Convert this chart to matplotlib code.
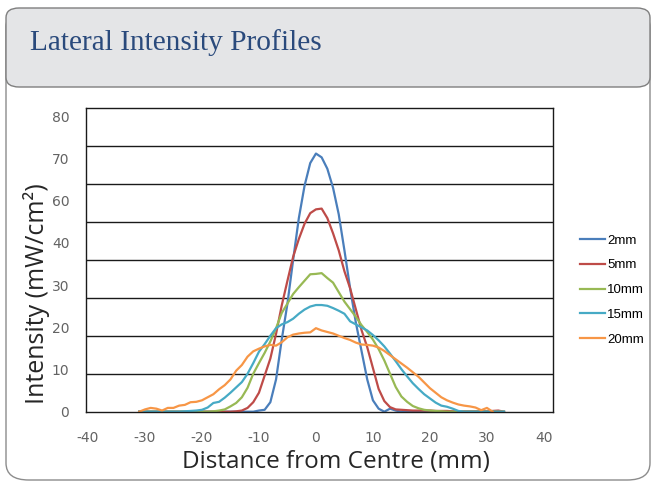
import numpy as np
import matplotlib
matplotlib.use("Agg")
import matplotlib.pyplot as plt
from matplotlib.patches import FancyBboxPatch

# Distance from centre (mm), 1 mm steps
distance = np.arange(-31, 34)

# Intensity (mW/cm2), one list per depth
i_2mm = [0, 0, 0, 0, 0, 0, 0, 0, 0, 0, 0, 0, 0, 0, 0, 0, 0, 0, 0, 0, 0,
         0.3, 0.5, 2.5, 8.5, 19.0, 28.5, 40.0, 51.0, 59.5, 65.5, 68.0, 67.0,
         64.0, 59.0, 52.0, 42.5, 32.5, 23.5, 16.0, 8.5, 3.0, 0.8, 0.0, 0.8, 0.3,
         0, 0, 0, 0, 0, 0, 0, 0, 0, 0, 0, 0, 0, 0, 0, 0, 0, 0, 0]
i_5mm = [0, 0, 0, 0, 0, 0, 0, 0, 0, 0, 0, 0, 0, 0, 0, 0, 0,
         0.1, 0.3, 1.0, 2.5, 5.0, 9.5, 14.0, 20.5, 28.0, 34.5, 40.8, 45.5, 49.5,
         52.3, 53.3, 53.5, 51.0, 47.0, 42.5, 37.0, 32.5, 27.0, 21.5, 17.0, 11.5,
         6.0, 2.8, 1.2, 0.6, 0.5, 0.4, 0.3, 0.3, 0.3, 0.3, 0.2, 0.2, 0.2, 0.1,
         0.1, 0.1, 0.1, 0.1, 0.1, 0.1, 0.2, 0.3, 0]
i_10mm = [0, 0, 0, 0, 0, 0, 0, 0, 0, 0, 0, 0, 0,
          0.1, 0.3, 0.6, 1.4, 2.3, 3.8, 6.3, 10.0, 12.8, 15.5, 18.5, 22.0, 26.0,
          28.5, 31.0, 32.8, 34.5, 36.2, 36.3, 36.5, 35.2, 34.0, 31.5, 29.0, 27.0,
          25.0, 22.8, 21.0, 19.0, 16.5, 13.5, 10.0, 6.5, 4.0, 2.6, 1.5, 0.9, 0.5,
          0.3, 0.2, 0.1, 0, 0, 0, 0, 0, 0, 0, 0, 0, 0, 0]
i_15mm = [0, 0, 0, 0, 0, 0, 0, 0,
          0.1, 0.2, 0.3, 0.5, 1.1, 2.3, 2.6, 3.7, 5.0, 6.4, 7.8, 10.0, 12.8, 15.8,
          17.8, 20.0, 22.0, 23.0, 23.6, 24.5, 25.8, 26.9, 27.7, 28.1, 28.1, 27.9,
          27.3, 26.6, 25.8, 23.8, 23.0, 22.2, 21.4, 20.2, 18.8, 17.2, 15.3, 13.3,
          11.2, 9.3, 7.5, 6.0, 4.6, 3.5, 2.4, 1.6, 1.3, 0.8, 0.2,
          0, 0, 0, 0, 0, 0, 0, 0]
i_20mm = [0, 0.6, 1.0, 0.8, 0.3, 1.0, 1.0, 1.6, 1.8, 2.5, 2.6, 3.0, 3.8, 4.6,
          5.9, 7.0, 8.5, 10.8, 12.3, 14.5, 15.9, 16.6, 17.2, 17.6, 17.4, 18.3,
          19.6, 20.3, 20.6, 20.8, 20.9, 22.0, 21.4, 21.0, 20.6, 20.0, 19.4, 18.9,
          18.2, 17.7, 17.6, 17.4, 16.9, 16.0, 14.9, 13.8, 12.7, 11.6, 10.4, 9.2,
          7.7, 6.2, 5.0, 3.8, 3.0, 2.4, 1.9, 1.6, 1.4, 1.1, 0.4, 1.0, 0,
          np.nan, np.nan]

series = [("2mm", i_2mm, "#4a7ebb"),
          ("5mm", i_5mm, "#be4b48"),
          ("10mm", i_10mm, "#98b954"),
          ("15mm", i_15mm, "#46aac5"),
          ("20mm", i_20mm, "#f79646")]

ytick_labels = ["0", "10", "20", "30", "40", "60", "70", "80"]
xticks = [-40, -30, -20, -10, 0, 10, 20, 30, 40]

W, H = 652, 484
fig = plt.figure(figsize=(W / 100, H / 100), dpi=100)

# panel and header
panel = FancyBboxPatch((6 / W, 4 / H), 644 / W, 470 / H,
                       boxstyle="round,pad=0,rounding_size=0.035",
                       transform=fig.transFigure, facecolor="white",
                       edgecolor="#8c8c8c", lw=1.0, zorder=-2)
fig.patches.append(panel)
header = FancyBboxPatch((6 / W, 1 - 87 / H), 644 / W, 79 / H,
                        boxstyle="round,pad=0,rounding_size=0.02",
                        transform=fig.transFigure, facecolor="#e4e5e7",
                        edgecolor="#7f7f7f", lw=1.0, zorder=-1)
fig.patches.append(header)
fig.text(30 / W, 1 - 43 / H, "Lateral Intensity Profiles", family="Liberation Serif",
         fontsize=21.2, color="#2a4a7c", va="center", ha="left")

ax = fig.add_axes([86 / W, 1 - 411.7 / H, 467 / W, 303.7 / H])
ax.patch.set_alpha(0)
for label, vals, col in series:
    ax.plot(distance, vals, color=col, lw=1.6, label=label)

ax.set_xlim(-40.35, 41.6)
ax.set_ylim(0, 80)
for yv in range(10, 80, 10):
    ax.axhline(yv, color="#1a1a1a", lw=1.0, zorder=0)
for s in ax.spines.values():
    s.set_color("#1a1a1a")
    s.set_linewidth(1.0)

ax.set_xticks(xticks)
ax.set_xticklabels([str(v) for v in xticks])
ax.set_yticks(np.linspace(0, 77.8, 8))
ax.set_yticklabels(ytick_labels)
ax.tick_params(length=0, labelsize=10, colors="#636363")
ax.tick_params(axis="x", pad=14)
ax.tick_params(axis="y", pad=12)
for t in ax.get_xticklabels() + ax.get_yticklabels():
    t.set_family("DejaVu Sans")

fig.text(336 / W, 1 - 462 / H, "Distance from Centre (mm)", family="Open Sans",
         fontsize=17.5, color="#262626", ha="center", va="center")
fig.text(37 / W, 1 - 294 / H, "Intensity (mW/cm²)", family="Open Sans",
         fontsize=18, color="#262626", ha="center", va="center", rotation=90)

leg = ax.legend(loc="center left", bbox_to_anchor=(580 / W, 1 - 290 / H),
                bbox_transform=fig.transFigure, frameon=False, borderpad=0,
                borderaxespad=0, handlelength=1.9, handletextpad=0.15,
                labelspacing=0.95, prop={"family": "Liberation Sans", "size": 9.5})

fig.savefig("out.png", dpi=100)
